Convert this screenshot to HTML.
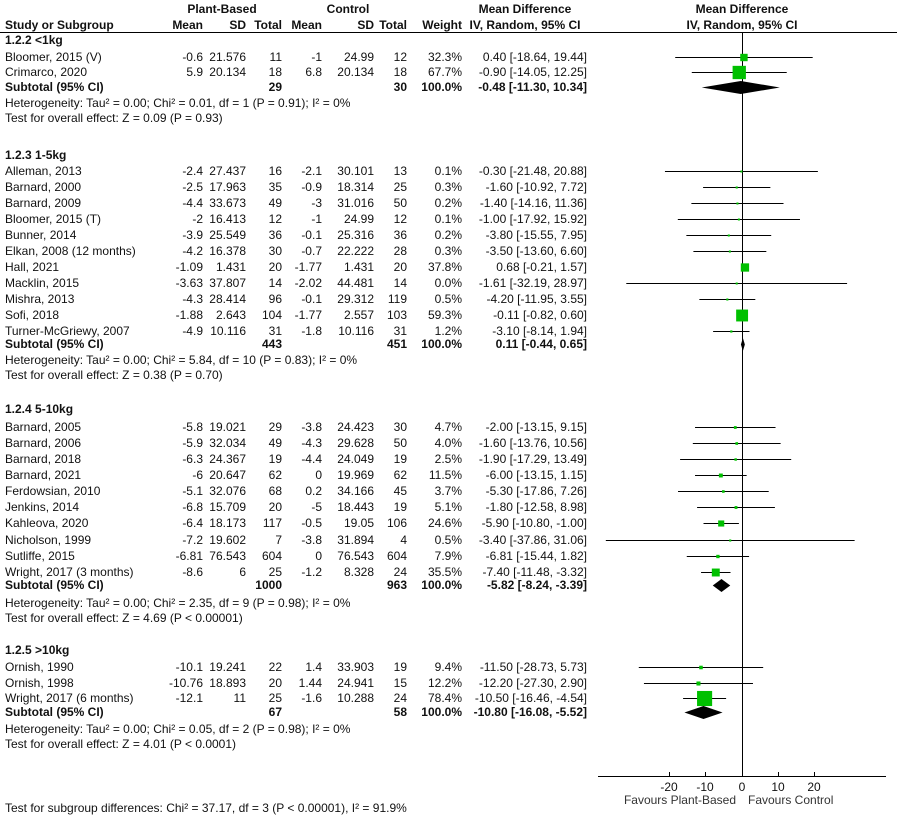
<!DOCTYPE html>
<html><head><meta charset="utf-8"><style>
html,body{margin:0;padding:0;background:#fff;}
svg{display:block;}
text{font-family:"Liberation Sans",Arial,sans-serif;font-size:12px;fill:#111;}
.b{font-weight:bold;}
.e{text-anchor:end;}
.m{text-anchor:middle;}
</style></head><body>
<svg width="897" height="816" viewBox="0 0 897 816" xmlns="http://www.w3.org/2000/svg">
<text class="b m" x="222" y="13">Plant-Based</text>
<text class="b m" x="348" y="13">Control</text>
<text class="b m" x="525" y="13">Mean Difference</text>
<text class="b m" x="742" y="13">Mean Difference</text>
<text class="b" x="5" y="29">Study or Subgroup</text>
<text class="b e" x="203" y="29">Mean</text>
<text class="b e" x="246" y="29">SD</text>
<text class="b e" x="282" y="29">Total</text>
<text class="b e" x="322" y="29">Mean</text>
<text class="b e" x="374" y="29">SD</text>
<text class="b e" x="407" y="29">Total</text>
<text class="b e" x="462" y="29">Weight</text>
<text class="b m" x="525" y="29">IV, Random, 95% CI</text>
<text class="b m" x="742" y="29">IV, Random, 95% CI</text>
<line x1="0" y1="32.5" x2="897" y2="32.5" stroke="#000" stroke-width="1"/>
<line x1="742.5" y1="32" x2="742.5" y2="777" stroke="#000" stroke-width="1"/>

<g id="rows"></g>

<line x1="598" y1="776.5" x2="886" y2="776.5" stroke="#000"/>
<g stroke="#000">
<line x1="669.5" y1="772" x2="669.5" y2="777"/>
<line x1="705.5" y1="772" x2="705.5" y2="777"/>
<line x1="742.5" y1="772" x2="742.5" y2="777"/>
<line x1="778.5" y1="772" x2="778.5" y2="777"/>
<line x1="814.5" y1="772" x2="814.5" y2="777"/>
</g>
<text class="m" x="669" y="791">-20</text>
<text class="m" x="705" y="791">-10</text>
<text class="m" x="742" y="791">0</text>
<text class="m" x="778" y="791">10</text>
<text class="m" x="814" y="791">20</text>
<text class="e" x="736" y="804" style="fill:#333">Favours Plant-Based</text>
<text x="748" y="804" style="fill:#333">Favours Control</text>
<text x="5" y="812">Test for subgroup differences: Chi² = 37.17, df = 3 (P &lt; 0.00001), I² = 91.9%</text>
</svg>
<script>
const rows=[
 ['h',40,'1.2.2 <1kg'],
 ['r',57,'Bloomer, 2015 (V)','-0.6','21.576','11','-1','24.99','12','32.3%','0.40 [-18.64, 19.44]',0.40,-18.64,19.44,32.3],
 ['r',72,'Crimarco, 2020','5.9','20.134','18','6.8','20.134','18','67.7%','-0.90 [-14.05, 12.25]',-0.90,-14.05,12.25,67.7],
 ['s',87,'29','30','-0.48 [-11.30, 10.34]',-0.48,-11.30,10.34],
 ['t',103,'Heterogeneity: Tau² = 0.00; Chi² = 0.01, df = 1 (P = 0.91); I² = 0%'],
 ['t',118,'Test for overall effect: Z = 0.09 (P = 0.93)'],
 ['h',155,'1.2.3 1-5kg'],
 ['r',171,'Alleman, 2013','-2.4','27.437','16','-2.1','30.101','13','0.1%','-0.30 [-21.48, 20.88]',-0.30,-21.48,20.88,0.1],
 ['r',187,'Barnard, 2000','-2.5','17.963','35','-0.9','18.314','25','0.3%','-1.60 [-10.92, 7.72]',-1.60,-10.92,7.72,0.3],
 ['r',203,'Barnard, 2009','-4.4','33.673','49','-3','31.016','50','0.2%','-1.40 [-14.16, 11.36]',-1.40,-14.16,11.36,0.2],
 ['r',219,'Bloomer, 2015 (T)','-2','16.413','12','-1','24.99','12','0.1%','-1.00 [-17.92, 15.92]',-1.00,-17.92,15.92,0.1],
 ['r',235,'Bunner, 2014','-3.9','25.549','36','-0.1','25.316','36','0.2%','-3.80 [-15.55, 7.95]',-3.80,-15.55,7.95,0.2],
 ['r',251,'Elkan, 2008 (12 months)','-4.2','16.378','30','-0.7','22.222','28','0.3%','-3.50 [-13.60, 6.60]',-3.50,-13.60,6.60,0.3],
 ['r',267,'Hall, 2021','-1.09','1.431','20','-1.77','1.431','20','37.8%','0.68 [-0.21, 1.57]',0.68,-0.21,1.57,37.8],
 ['r',283,'Macklin, 2015','-3.63','37.807','14','-2.02','44.481','14','0.0%','-1.61 [-32.19, 28.97]',-1.61,-32.19,28.97,0],
 ['r',299,'Mishra, 2013','-4.3','28.414','96','-0.1','29.312','119','0.5%','-4.20 [-11.95, 3.55]',-4.20,-11.95,3.55,0.5],
 ['r',315,'Sofi, 2018','-1.88','2.643','104','-1.77','2.557','103','59.3%','-0.11 [-0.82, 0.60]',-0.11,-0.82,0.60,59.3],
 ['r',331,'Turner-McGriewy, 2007','-4.9','10.116','31','-1.8','10.116','31','1.2%','-3.10 [-8.14, 1.94]',-3.10,-8.14,1.94,1.2],
 ['s',344,'443','451','0.11 [-0.44, 0.65]',0.11,-0.44,0.65],
 ['t',360,'Heterogeneity: Tau² = 0.00; Chi² = 5.84, df = 10 (P = 0.83); I² = 0%'],
 ['t',375,'Test for overall effect: Z = 0.38 (P = 0.70)'],
 ['h',409,'1.2.4 5-10kg'],
 ['r',427,'Barnard, 2005','-5.8','19.021','29','-3.8','24.423','30','4.7%','-2.00 [-13.15, 9.15]',-2.00,-13.15,9.15,4.7],
 ['r',443,'Barnard, 2006','-5.9','32.034','49','-4.3','29.628','50','4.0%','-1.60 [-13.76, 10.56]',-1.60,-13.76,10.56,4.0],
 ['r',459,'Barnard, 2018','-6.3','24.367','19','-4.4','24.049','19','2.5%','-1.90 [-17.29, 13.49]',-1.90,-17.29,13.49,2.5],
 ['r',475,'Barnard, 2021','-6','20.647','62','0','19.969','62','11.5%','-6.00 [-13.15, 1.15]',-6.00,-13.15,1.15,11.5],
 ['r',491,'Ferdowsian, 2010','-5.1','32.076','68','0.2','34.166','45','3.7%','-5.30 [-17.86, 7.26]',-5.30,-17.86,7.26,3.7],
 ['r',507,'Jenkins, 2014','-6.8','15.709','20','-5','18.443','19','5.1%','-1.80 [-12.58, 8.98]',-1.80,-12.58,8.98,5.1],
 ['r',523,'Kahleova, 2020','-6.4','18.173','117','-0.5','19.05','106','24.6%','-5.90 [-10.80, -1.00]',-5.90,-10.80,-1.00,24.6],
 ['r',540,'Nicholson, 1999','-7.2','19.602','7','-3.8','31.894','4','0.5%','-3.40 [-37.86, 31.06]',-3.40,-37.86,31.06,0.5],
 ['r',556,'Sutliffe, 2015','-6.81','76.543','604','0','76.543','604','7.9%','-6.81 [-15.44, 1.82]',-6.81,-15.44,1.82,7.9],
 ['r',572,'Wright, 2017 (3 months)','-8.6','6','25','-1.2','8.328','24','35.5%','-7.40 [-11.48, -3.32]',-7.40,-11.48,-3.32,35.5],
 ['s',585,'1000','963','-5.82 [-8.24, -3.39]',-5.82,-8.24,-3.39],
 ['t',603,'Heterogeneity: Tau² = 0.00; Chi² = 2.35, df = 9 (P = 0.98); I² = 0%'],
 ['t',618,'Test for overall effect: Z = 4.69 (P < 0.00001)'],
 ['h',650,'1.2.5 >10kg'],
 ['r',667,'Ornish, 1990','-10.1','19.241','22','1.4','33.903','19','9.4%','-11.50 [-28.73, 5.73]',-11.50,-28.73,5.73,9.4],
 ['r',683,'Ornish, 1998','-10.76','18.893','20','1.44','24.941','15','12.2%','-12.20 [-27.30, 2.90]',-12.20,-27.30,2.90,12.2],
 ['r',698,'Wright, 2017 (6 months)','-12.1','11','25','-1.6','10.288','24','78.4%','-10.50 [-16.46, -4.54]',-10.50,-16.46,-4.54,78.4],
 ['s',712,'67','58','-10.80 [-16.08, -5.52]',-10.80,-16.08,-5.52],
 ['t',729,'Heterogeneity: Tau² = 0.00; Chi² = 0.05, df = 2 (P = 0.98); I² = 0%'],
 ['t',744,'Test for overall effect: Z = 4.01 (P < 0.0001)'],
];
const X=v=>742.5+3.61*v;
const esc=s=>s.replace(/&/g,'&amp;').replace(/</g,'&lt;');
let o='';
const T=(x,y,s,c)=>o+=`<text class="${c||''}" x="${x}" y="${y+4}">${esc(s)}</text>`;
for(const r of rows){
 const y=r[1];
 if(r[0]=='h'){T(5,y,r[2],'b');}
 else if(r[0]=='t'){T(5,y,r[2]);}
 else if(r[0]=='r'){
  T(5,y,r[2]);
  const xs=[203,246,282,322,374,407,462,587];
  for(let i=0;i<8;i++)T(xs[i],y,r[3+i],'e');
  const [m,l,h,w]=r.slice(11);
  o+=`<line x1="${X(l)}" y1="${y+0.5}" x2="${X(h)}" y2="${y+0.5}" stroke="#000"/>`;
  const s=Math.max(2,2+0.167*w);
  o+=`<rect x="${X(m)-s/2}" y="${y+0.5-s/2}" width="${s}" height="${s}" fill="#00c000"/>`;
 } else {
  T(5,y,'Subtotal (95% CI)','b');
  T(282,y,r[2],'b e');T(407,y,r[3],'b e');T(462,y,'100.0%','b e');T(587,y,r[4],'b e');
  const [m,l,h]=r.slice(5);
  o+=`<polygon points="${X(l)},${y+0.5} ${X(m)},${y-6} ${X(h)},${y+0.5} ${X(m)},${y+7}" fill="#000"/>`;
 }
}
document.getElementById('rows').innerHTML=o;
</script>
</body></html>
